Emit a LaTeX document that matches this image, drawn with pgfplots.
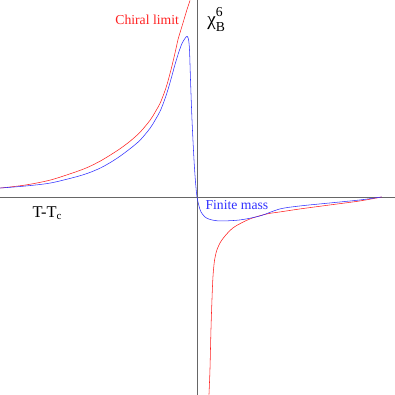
\documentclass[border=0pt]{standalone}
\usepackage{fontspec}
\setmainfont{Liberation Serif}
\usepackage{pgfplots}
\pgfplotsset{compat=1.18}
\definecolor{axgray}{HTML}{666666}
\definecolor{chiral}{HTML}{FF2020}
\definecolor{finite}{HTML}{3030FF}

\begin{document}
\begin{tikzpicture}
\begin{axis}[
  width=288pt, height=288pt, scale only axis,
  xmin=-197, xmax=198, ymin=-198, ymax=197,
  axis lines=middle,
  axis line style={-, draw=axgray, line width=0.7pt},
  xtick=\empty, ytick=\empty,
  clip=true]
  % chiral limit, left branch
  \addplot[chiral, line width=0.4pt, smooth] coordinates {
    (-197,9) (-172,12) (-147,17) (-122,25) (-109,30) (-97,36) (-87,42)
    (-77,48.5) (-67,56) (-57,65) (-47,77) (-42,85) (-37,94) (-33,104)
    (-30,113) (-27,124) (-24,136) (-21,149) (-19,158) (-16,168) (-13,178)
    (-10,188) (-7,197)};
  % chiral limit, right branch
  \addplot[chiral, line width=0.4pt, smooth] coordinates {
    (12,-198) (13,-173) (14,-133) (15,-103) (16,-80) (17.5,-64) (20,-53)
    (25,-43) (36,-31) (53,-22) (70,-17) (83,-15) (103,-12) (133,-8)
    (163,-4) (185,0)};
  % finite mass
  \addplot[finite, line width=0.4pt, smooth] coordinates {
    (-197,9) (-172,11) (-147,14) (-122,20) (-109,24) (-97,29) (-87,34.5)
    (-77,41) (-67,48.5) (-57,57) (-47,69) (-42,77) (-37,86) (-33,96)
    (-29,108) (-25,122) (-22,133) (-18,146) (-15,154) (-12,159) (-10,161)
    (-8.5,158) (-7.5,147) (-6.5,117) (-5,77) (-3,37) (-1.5,15) (0,0)
    (2,-9) (4,-15) (8,-20) (13,-22.5) (23,-24) (43,-23) (63,-19) (83,-12)
    (103,-9) (133,-6) (163,-3) (185,0)};
  \node[chiral, font=\fontsize{10}{12}\selectfont] at (axis cs:-50,178) {Chiral limit};
  \node[finite, font=\fontsize{10}{12}\selectfont] at (axis cs:40,-8) {Finite mass};
  \node[font=\fontsize{12}{14}\selectfont] at (axis cs:-150,-16) {T-T\textsubscript{c}};
  \node[anchor=west, font=\fontsize{14}{16}\selectfont, inner sep=0pt] at (axis cs:10,178)
    {χ\makebox[0pt][l]{\raisebox{1.1ex}{\fontsize{10}{10}\selectfont 6}}\raisebox{-0.7ex}{\fontsize{10}{10}\selectfont B}};
\end{axis}
\end{tikzpicture}
\end{document}
